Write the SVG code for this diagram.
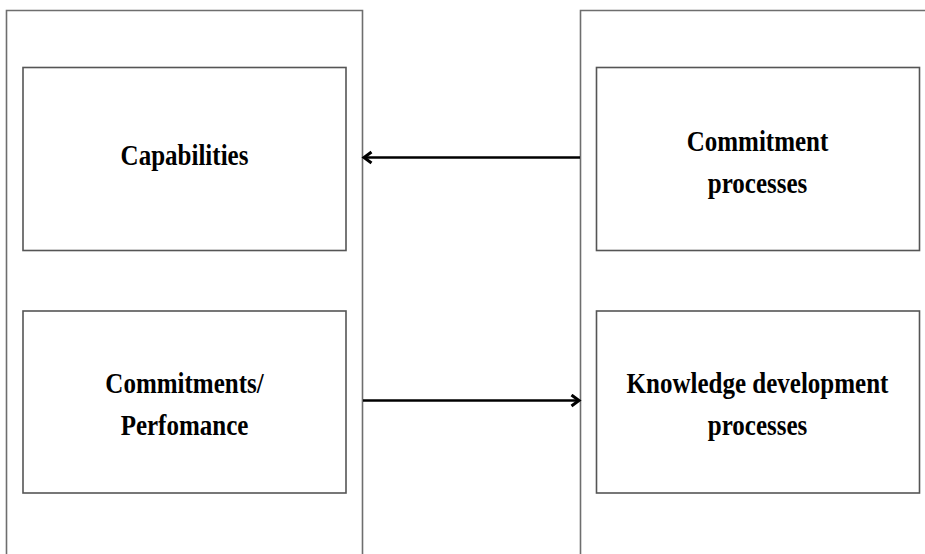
<svg xmlns="http://www.w3.org/2000/svg" width="925" height="554" viewBox="0 0 925 554">
  <style>
    .frame { fill: none; stroke: #6e6e6e; stroke-width: 1.6; }
    .box { fill: #ffffff; stroke: #555555; stroke-width: 1.6; }
    .label { font-family: "Liberation Serif", "Times New Roman", serif; font-weight: bold; font-size: 25px; fill: #000000; text-anchor: middle; }
    .link { fill: none; stroke: #000000; stroke-width: 2.5; }
  </style>
  <defs>
    <marker id="arrow" markerWidth="14" markerHeight="16" refX="9" refY="7" orient="auto" markerUnits="userSpaceOnUse">
      <path d="M1.5,1.5 L9,7 L1.5,12.5" fill="none" stroke="#000000" stroke-width="3" stroke-linejoin="miter"/>
    </marker>
  </defs>
  <rect width="925" height="554" fill="#ffffff"/>

  <!-- outer columns (open at the bottom) -->
  <g id="left-column">
    <path class="frame" d="M6.5,560 V10.5 H362.5 V560"/>
  </g>
  <g id="right-column">
    <path class="frame" d="M580.5,560 V10.5 H930"/>
  </g>

  <!-- labels are drawn slightly taller than wide -->
  <g id="capabilities">
    <rect class="box" x="23" y="67.5" width="323" height="183"/>
    <text class="label" transform="translate(184.5,165) scale(1,1.15)">Capabilities</text>
  </g>
  <g id="commitments-performance">
    <rect class="box" x="23" y="311" width="323" height="182"/>
    <text class="label" transform="translate(184.5,393) scale(1,1.15)">Commitments/</text>
    <text class="label" transform="translate(184.5,435) scale(1,1.15)">Perfomance</text>
  </g>
  <g id="commitment-processes">
    <rect class="box" x="596.5" y="67.5" width="323" height="183"/>
    <text class="label" transform="translate(757.5,151) scale(1,1.15)">Commitment</text>
    <text class="label" transform="translate(757.5,193) scale(1,1.15)">processes</text>
  </g>
  <g id="knowledge-development">
    <rect class="box" x="596.5" y="311" width="323" height="182"/>
    <text class="label" transform="translate(757.5,393) scale(1,1.15)">Knowledge development</text>
    <text class="label" transform="translate(757.5,435) scale(1,1.15)">processes</text>
  </g>

  <g id="connectors">
    <line class="link" x1="580" y1="157.5" x2="364" y2="157.5" marker-end="url(#arrow)"/>
    <line class="link" x1="363" y1="400.5" x2="579" y2="400.5" marker-end="url(#arrow)"/>
  </g>
</svg>
